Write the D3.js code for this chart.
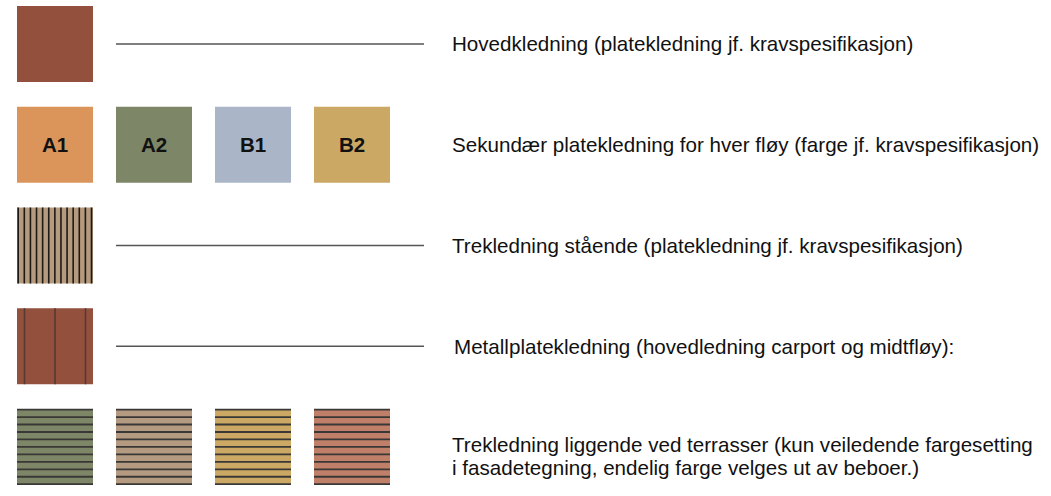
<!DOCTYPE html>
<html><head><meta charset="utf-8">
<script src="https://cdn.jsdelivr.net/npm/d3@7"></script>
<style>body{margin:0;background:#fff}svg{display:block}</style>
</head><body>
<svg id="c" width="1051" height="496"></svg>
<script>
const rowIds = ["hoved", "sekundaer", "staende", "metall", "liggende"];
const rowLabels = [
  ["Hovedkledning (platekledning jf. kravspesifikasjon)"],
  ["Sekundær platekledning for hver fløy (farge jf. kravspesifikasjon)"],
  ["Trekledning stående (platekledning jf. kravspesifikasjon)"],
  ["Metallplatekledning (hovedledning carport og midtfløy):"],
  ["Trekledning liggende ved terrasser (kun veiledende fargesetting", "i fasadetegning, endelig farge velges ut av beboer.)"]
];
const rowHasLeader = [true, false, true, true, false];
const hovedColors = ["#93503d"];
const sekundaerLabels = ["A1", "A2", "B1", "B2"];
const sekundaerColors = ["#db955a", "#7d8667", "#aab6c8", "#cba863"];
const staendeColors = ["#b59a7e"];
const staendeSlats = d3.range(13);
const metallColors = ["#93503d"];
const metallSeams = d3.range(3);
const liggendeColors = ["#7d8667", "#b39a80", "#cba863", "#c07f69"];
const liggendeBoards = d3.range(11);

const svg = d3.select("#c");
const S = 76;
const y = d3.scalePoint().domain(rowIds).range([6, 409]);
const col = d3.scalePoint().domain(d3.range(4)).range([17, 314]);

function swatches(id, colors) {
  return svg.append("g").selectAll("g").data(colors).join("g")
    .attr("transform", (d, i) => `translate(${col(i)},${y(id)})`)
    .call(g => g.append("rect").attr("width", S).attr("height", S).attr("fill", d => d));
}

swatches("hoved", hovedColors);

const sek = swatches("sekundaer", sekundaerColors);
sek.append("text").attr("x", S / 2).attr("y", S / 2).attr("dy", "0.36em")
  .attr("text-anchor", "middle").attr("font-family", "Liberation Sans, Arial, sans-serif")
  .attr("font-weight", "bold").attr("font-size", 20.5).attr("fill", "#111")
  .text((d, i) => sekundaerLabels[i]);

const slatX = d3.scaleLinear().domain([0, staendeSlats.length - 1]).range([1.2, S - 1.5]);
swatches("staende", staendeColors).selectAll("line").data(staendeSlats).join("line")
  .attr("x1", d => slatX(d)).attr("x2", d => slatX(d)).attr("y1", 0).attr("y2", S)
  .attr("stroke", "#1e1a16").attr("stroke-width", 1.6);

const seamX = d3.scaleLinear().domain([0, metallSeams.length - 1]).range([7.5, 68.5]);
swatches("metall", metallColors).selectAll("line").data(metallSeams).join("line")
  .attr("x1", d => seamX(d)).attr("x2", d => seamX(d)).attr("y1", 0).attr("y2", S)
  .attr("stroke", "#553a33").attr("stroke-width", 1.6);

const boardY = d3.scaleLinear().domain([0, liggendeBoards.length - 1]).range([0.6, S - 0.8]);
swatches("liggende", liggendeColors).selectAll("line").data(liggendeBoards).join("line")
  .attr("x1", 0).attr("x2", S).attr("y1", d => boardY(d)).attr("y2", d => boardY(d))
  .attr("stroke", "#3a3836").attr("stroke-width", 1.8);

// leaders
svg.append("g").selectAll("line").data(rowIds.filter((d, i) => rowHasLeader[i])).join("line")
  .attr("x1", 116).attr("x2", 424)
  .attr("y1", d => y(d) + 38).attr("y2", d => y(d) + 38)
  .attr("stroke", "#555").attr("stroke-width", 1.3);

// labels
const lab = svg.append("g").attr("font-family", "Liberation Sans, Arial, sans-serif")
  .attr("font-size", 20.6).attr("fill", "#111");
rowIds.forEach((id, i) => {
  const lines = rowLabels[i];
  const x0 = id === "metall" ? 454 : 452;
  const lh = 23.5;
  const cy = y(id) + 38 + (id === "liggende" ? 9 : 0);
  lines.forEach((t, k) => {
    lab.append("text").attr("x", x0)
      .attr("y", cy + (k - (lines.length - 1) / 2) * lh)
      .attr("dy", "0.36em").text(t);
  });
});
</script>
</body></html>
